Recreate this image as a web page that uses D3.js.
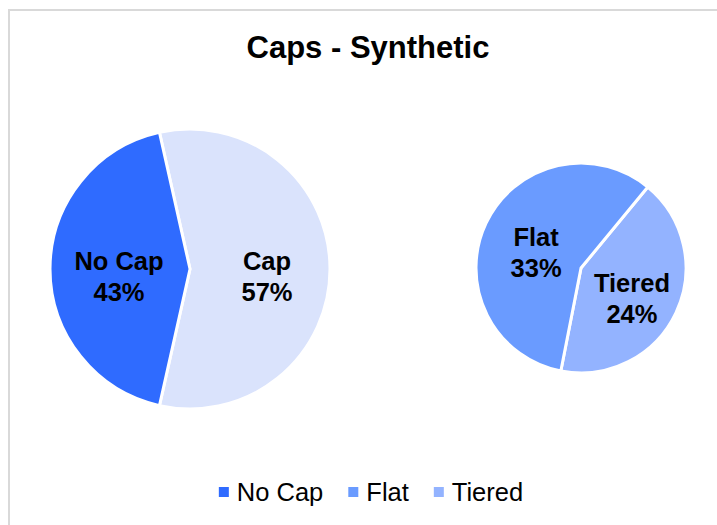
<!DOCTYPE html>
<html>
<head>
<meta charset="utf-8">
<script src="https://cdn.jsdelivr.net/npm/d3@7"></script>
<style>
  body { margin: 0; background: #fff; }
  text { font-family: "Liberation Sans", Arial, sans-serif; }
</style>
</head>
<body>
<div id="chart"></div>
<script>
// data
var categories = ["No Cap", "Flat", "Tiered"];
var shares = [43, 33, 24];
var colors = ["#2f6bff", "#6a9bff", "#93b3ff"];
var other_label = "Cap";
var other_color = "#dae3fc";
var title = "Caps - Synthetic";

// chart parameters
var svg_width = 717;
var svg_height = 525;

var svg = d3.select("#chart")
    .append("svg")
    .attr("width", svg_width)
    .attr("height", svg_height);

// chart area border
svg.append("rect")
    .attr("x", 9)
    .attr("y", 10)
    .attr("width", 800)
    .attr("height", 600)
    .attr("fill", "none")
    .attr("stroke", "#d9d9d9")
    .attr("stroke-width", 2);

svg.append("text")
    .attr("x", 368)
    .attr("y", 58)
    .attr("text-anchor", "middle")
    .attr("font-size", 31)
    .attr("font-weight", "bold")
    .attr("fill", "#000")
    .text(title);

// main pie: first category + the rest grouped as "Cap"
var main_data = [
    { label: other_label, value: d3.sum(shares.slice(1)), color: other_color },
    { label: categories[0], value: shares[0], color: colors[0] }
];
// secondary pie: the grouped categories
var sub_data = [
    { label: categories[2], value: shares[2], color: colors[2] },
    { label: categories[1], value: shares[1], color: colors[1] }
];

var main_r = 140;
var sub_r = 105;
var main_center = [190, 269];
var sub_center = [581, 268];

// rotate main pie so "Cap" faces the secondary pie
var cap_angle = 2 * Math.PI * main_data[0].value / d3.sum(main_data, d => d.value);
var main_start = Math.PI / 2 - cap_angle / 2;
var sub_start = 39.5 * Math.PI / 180;

function drawPie(data, center, r, start, label_r) {
    var pie = d3.pie()
        .value(d => d.value)
        .sort(null)
        .startAngle(start)
        .endAngle(start + 2 * Math.PI);

    var arc = d3.arc().innerRadius(0).outerRadius(r);
    var label_arc = d3.arc().innerRadius(label_r).outerRadius(label_r);

    var g = svg.append("g")
        .attr("transform", `translate(${center[0]}, ${center[1]})`);

    g.selectAll("path")
        .data(pie(data))
        .enter()
        .append("path")
        .attr("d", arc)
        .attr("fill", d => d.data.color)
        .attr("stroke", "#fff")
        .attr("stroke-width", 3)
        .attr("stroke-linejoin", "round");

    var labels = g.selectAll(".lbl")
        .data(pie(data))
        .enter()
        .append("text")
        .attr("class", "lbl")
        .attr("text-anchor", "middle")
        .attr("font-size", 25.5)
        .attr("font-weight", "bold")
        .attr("fill", "#000")
        .attr("transform", d => {
            var c = label_arc.centroid(d);
            return `translate(${c[0] + 3}, ${c[1]})`;
        });

    labels.append("tspan")
        .attr("x", 0)
        .attr("y", 1)
        .text(d => d.data.label);

    labels.append("tspan")
        .attr("x", 0)
        .attr("y", 32)
        .text(d => d.data.label == other_label ? d3.sum(shares.slice(1)) + "%"
            : shares[categories.indexOf(d.data.label)] + "%");
}

drawPie(main_data, main_center, main_r, main_start, 74);
drawPie(sub_data, sub_center, sub_r, sub_start, 53);

// legend
var legend = svg.append("g");
var x_pos = 0;
categories.forEach(function(c, i) {
    var item = legend.append("g").attr("transform", `translate(${x_pos}, 0)`);
    item.append("rect")
        .attr("x", 0)
        .attr("y", -5)
        .attr("width", 10)
        .attr("height", 10)
        .attr("fill", colors[i]);
    var t = item.append("text")
        .attr("x", 18)
        .attr("y", 9)
        .attr("font-size", 25.5)
        .attr("fill", "#000")
        .text(c);
    x_pos += 18 + t.node().getComputedTextLength() + 25;
});
var legend_width = x_pos - 25;
legend.attr("transform", `translate(${371 - legend_width / 2}, 492)`);
</script>
</body>
</html>
